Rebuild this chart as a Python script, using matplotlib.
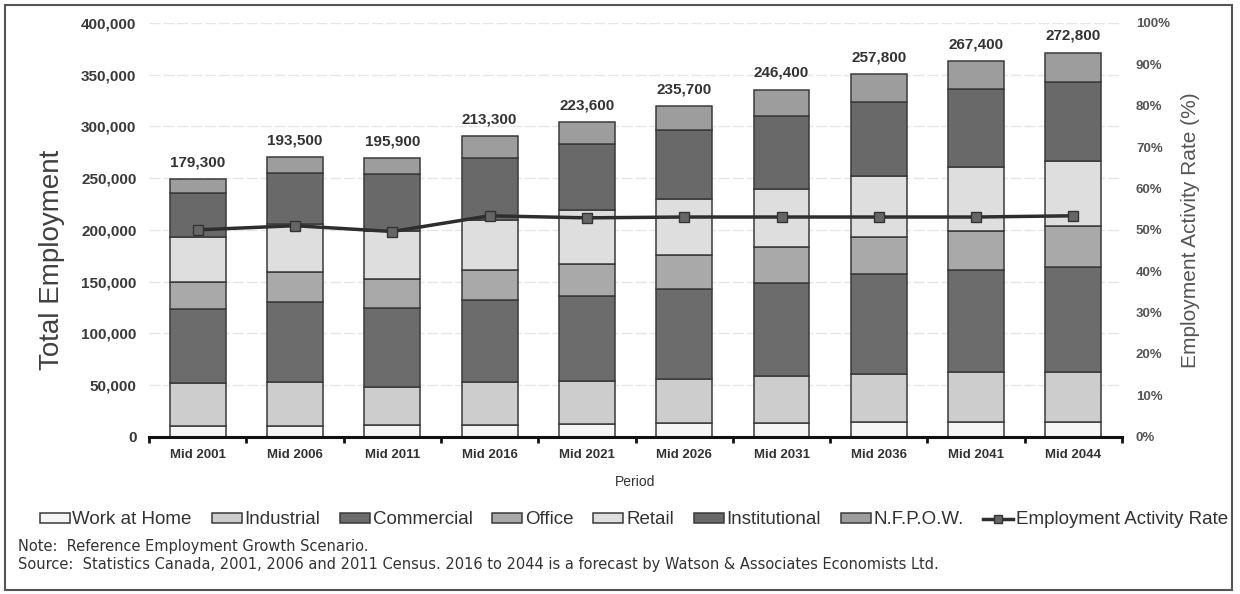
import matplotlib.pyplot as plt
import numpy as np
from matplotlib.patches import Rectangle, Patch
from matplotlib.lines import Line2D
from matplotlib.ticker import FuncFormatter, MultipleLocator

plt.rcParams['font.family'] = ['Liberation Sans', 'DejaVu Sans']

# data
periods = ['Mid 2001', 'Mid 2006', 'Mid 2011', 'Mid 2016', 'Mid 2021',
           'Mid 2026', 'Mid 2031', 'Mid 2036', 'Mid 2041', 'Mid 2044']
work_at_home = [10000, 10000, 11000, 11000, 12200, 13000, 13000, 14000, 14200, 14000]
industrial = [42000, 43000, 37500, 41700, 41800, 43000, 45800, 47000, 48800, 49000]
commercial = [71000, 77000, 75500, 79300, 81900, 87000, 90200, 96000, 98600, 100600]
office = [27000, 29000, 28000, 29600, 31500, 33000, 34400, 36000, 37300, 39900]
retail = [43000, 47000, 47000, 48400, 51400, 54000, 56300, 58600, 61900, 63000]
institutional = [42500, 48500, 55000, 59700, 63800, 66400, 70500, 72100, 75800, 76500]
nfpow = [13500, 15500, 15000, 20900, 21200, 23100, 25400, 26700, 26600, 28300]
total_labels = ['179,300', '193,500', '195,900', '213,300', '223,600',
                '235,700', '246,400', '257,800', '267,400', '272,800']
activity_rate = [50.0, 51.0, 49.6, 53.4, 52.9, 53.1, 53.1, 53.1, 53.1, 53.4]

series_names = ['Work at Home', 'Industrial', 'Commercial', 'Office',
                'Retail', 'Institutional', 'N.F.P.O.W.']
series = [work_at_home, industrial, commercial, office, retail, institutional, nfpow]
colors = ['#f5f5f5', '#cdcdcd', '#6c6c6c', '#a9a9a9', '#dedede', '#696969', '#9d9d9d']
edge = '#3a3a3a'

fig = plt.figure(figsize=(12.4, 5.94), dpi=100)
ax = fig.add_axes([0.1202, 0.2648, 0.7847, 0.6965])

x = np.arange(len(periods))
bottom = np.zeros(len(periods))
for name, vals, col in zip(series_names, series, colors):
    ax.bar(x, vals, width=0.575, bottom=bottom, color=col, edgecolor=edge,
           linewidth=1.1, zorder=2)
    bottom += np.array(vals)

# total labels above bars
for xi, top, lab in zip(x, bottom, total_labels):
    ax.annotate(lab, (xi, top), xytext=(0, 7), textcoords='offset points',
                ha='center', va='bottom', fontsize=11, fontweight='bold', color='#333333')

ax.set_xlim(-0.5, 9.5)
ax.set_ylim(0, 400000)
ax.yaxis.set_major_locator(MultipleLocator(50000))
ax.yaxis.set_major_formatter(FuncFormatter(lambda v, p: f'{v:,.0f}'))
ax.grid(axis='y', color='#e6e6e6', linewidth=1, linestyle=(0, (8, 2)), zorder=0)
ax.set_axisbelow(True)
ax.set_xticks(x)
ax.set_xticklabels(periods, fontsize=9.5, fontweight='bold', color='#333333')
ax.set_xticks(np.arange(-0.5, 10, 1), minor=True)
ax.tick_params(axis='x', which='major', length=0, pad=9)
ax.tick_params(axis='x', which='minor', length=4, width=2, color='#111111', direction='out')
ax.tick_params(axis='y', length=0, pad=9, labelsize=11, labelcolor='#3a3a3a')
for t in ax.get_yticklabels():
    t.set_fontweight('bold')
for s in ['top', 'left', 'right']:
    ax.spines[s].set_visible(False)
ax.spines['bottom'].set_linewidth(2.2)
ax.spines['bottom'].set_color('#111111')
ax.set_xlabel('Period', fontsize=10, color='#333333', labelpad=10)
ax.set_ylabel('Total Employment', fontsize=20, color='#404040')
ax.yaxis.set_label_coords(-0.086, 0.428)

ax2 = ax.twinx()
ax2.plot(x, activity_rate, color='#2e2e2e', linewidth=2.5, marker='s', markersize=7,
         markerfacecolor='#666666', markeredgecolor='#333333', zorder=3)
ax2.set_ylim(0, 100)
ax2.yaxis.set_major_locator(MultipleLocator(10))
ax2.yaxis.set_major_formatter(FuncFormatter(lambda v, p: f'{v:.0f}%'))
ax2.tick_params(axis='y', length=0, pad=10, labelsize=9.5, labelcolor='#555555')
for t in ax2.get_yticklabels():
    t.set_fontweight('bold')
for s in ['top', 'left', 'right', 'bottom']:
    ax2.spines[s].set_visible(False)
ax2.set_ylabel('Employment Activity Rate (%)', fontsize=15, color='#555555')
ax2.yaxis.set_label_coords(1.061, 0.5)

# legend
handles = [Patch(facecolor=c, edgecolor=edge, linewidth=1.1) for c in colors]
handles.append(Line2D([0], [0], color='#2e2e2e', linewidth=2.5, marker='s', markersize=6,
                      markerfacecolor='#666666', markeredgecolor='#333333'))
labels = series_names + ['Employment Activity Rate']
fig.legend(handles, labels, loc='center', bbox_to_anchor=(634 / 1240, 1 - 520 / 594),
           ncol=8, frameon=False, fontsize=13.5, handlelength=1.6, handleheight=0.45,
           handletextpad=0.15, columnspacing=1.05, labelcolor='#333333')

fig.text(18 / 1240, 1 - 547 / 594, 'Note:  Reference Employment Growth Scenario.',
         fontsize=10.5, family='DejaVu Sans', color='#333333', va='center')
fig.text(18 / 1240, 1 - 565 / 594,
         'Source:  Statistics Canada, 2001, 2006 and 2011 Census. 2016 to 2044 is a forecast '
         'by Watson & Associates Economists Ltd.',
         fontsize=10.5, family='DejaVu Sans', color='#333333', va='center')

fig.patches.append(Rectangle((5 / 1240, 4 / 594), 1227 / 1240, 585 / 594,
                             transform=fig.transFigure, fill=False,
                             edgecolor='#555555', linewidth=1.5))

fig.savefig('out.png', dpi=100)
